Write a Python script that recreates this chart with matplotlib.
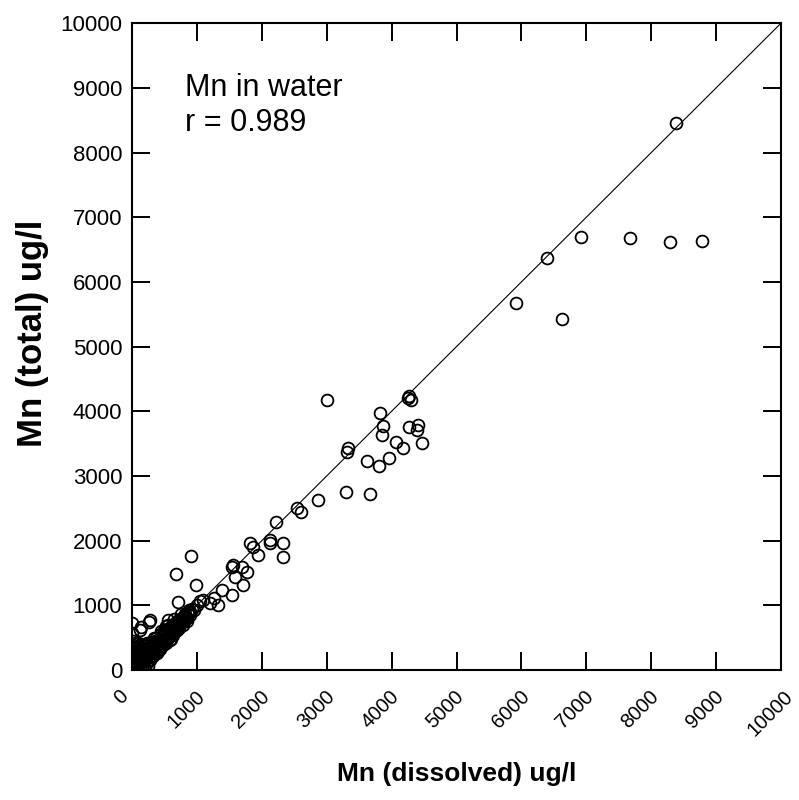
import numpy as np
import matplotlib
matplotlib.use("Agg")
import matplotlib.pyplot as plt
import matplotlib.transforms as mtransforms

plt.rcParams['font.family'] = ['Liberation Sans', 'DejaVu Sans']

# Mn dissolved (x) vs Mn total (y), ug/l
# dense cluster near the origin
low_x = [0, 10, 20, 30, 5, 15, 40, 60, 50, 25, 10, 5, 0, 8, 12, 30, 45, 70, 90, 120,
         150, 200, 250, 80, 100, 130, 160, 110, 70, 140, 180, 200, 220, 250, 270, 300,
         320, 350, 380, 400, 420, 450, 470, 500, 520, 550, 560, 580, 600, 620, 640, 660,
         680, 700, 720, 740, 760, 780, 800, 820, 850, 870, 900, 930, 960, 1000, 1050, 1100,
         300, 400, 500, 600, 700, 350, 450, 250, 180, 550, 650, 750, 520,
         0, 0, 0, 20, 35, 55, 75, 95, 115, 135, 160, 190, 210, 240, 260, 280, 310, 330,
         360, 390, 410, 430, 460, 480, 510, 530, 570, 590, 610, 630, 670, 690, 710, 730,
         770, 790, 810, 840, 860, 890, 60, 90, 170, 230, 290, 340, 370, 440, 490, 540,
         280, 330, 380, 430, 480, 530, 580, 630, 20, 40, 65, 85, 110, 140, 170, 210]
low_y = [0, 20, 5, 40, 60, 100, 15, 30, 80, 150, 200, 260, 320, 380, 450, 230, 300, 60, 20, 40,
         10, 30, 60, 120, 180, 110, 200, 260, 350, 300, 150, 250, 180, 300, 220, 330,
         260, 390, 320, 430, 370, 480, 400, 520, 450, 600, 500, 650, 560, 700, 600, 720,
         640, 760, 680, 790, 720, 820, 750, 870, 800, 900, 850, 950, 920, 1000, 1060, 1080,
         200, 300, 420, 480, 620, 450, 560, 400, 330, 700, 790, 870, 680,
         50, 150, 250, 120, 200, 160, 240, 90, 150, 230, 280, 210, 320, 260, 360, 280, 380, 300,
         440, 360, 480, 400, 530, 440, 580, 480, 600, 540, 660, 580, 680, 620, 730, 650,
         780, 700, 830, 760, 860, 900, 400, 280, 380, 420, 400, 500, 500, 600, 620, 640,
         160, 220, 270, 330, 380, 420, 470, 540, 350, 420, 200, 420, 320, 400, 80, 100]

# scattered points
mid_x = [0, 0, 120, 260, 140, 280, 555, 680, 710, 880, 910, 990, 1200, 1260, 1330, 1390,
         1540, 1540, 1560, 1590, 1700, 1710, 1770, 1820, 1860, 1940, 2130, 2130, 2220,
         2330, 2330, 2540, 2600, 2870, 3000, 3300, 3310, 3330, 3670, 3620, 3810, 3820,
         3850, 3870, 3960, 4070, 4180, 4250, 4270, 4300, 4270, 4390, 4410, 4470]
mid_y = [720, 570, 620, 740, 665, 770, 770, 1480, 1050, 930, 1760, 1310, 1040, 1110, 1000, 1240,
         1160, 1590, 1620, 1440, 1590, 1310, 1510, 1960, 1900, 1780, 1960, 2010, 2290,
         1960, 1750, 2510, 2440, 2630, 4170, 2750, 3370, 3440, 2720, 3230, 3150, 3970,
         3630, 3770, 3280, 3520, 3430, 4200, 4230, 4180, 3760, 3710, 3790, 3510]

high_x = [5920, 6390, 6630, 6920, 7670, 8290, 8380, 8780]
high_y = [5670, 6370, 5420, 6690, 6680, 6620, 8450, 6630]

x = np.array(low_x + mid_x + high_x)
y = np.array(low_y + mid_y + high_y)

ticks = np.arange(0, 10001, 1000)

fig = plt.figure(figsize=(7.99, 8.0), dpi=100)
ax = fig.add_axes([0.1652, 0.1625, 0.8123, 0.8085])

ax.plot([0, 10000], [0, 10000], color='black', lw=0.8, zorder=1)
ax.plot(x, y, 'o', mfc='none', mec='black', ms=8.5, mew=1.3, zorder=2)

ax.set_xlim(0, 10000)
ax.set_ylim(0, 10000)
ax.set_xticks(ticks)
ax.set_yticks(ticks)
ax.set_xticklabels([str(t) for t in ticks], rotation=45, ha='center')
ax.tick_params(direction='in', length=13, width=1.4, top=True, right=True,
               labelsize=16, pad=7, colors='black')
ax.tick_params(axis='x', pad=12, labelsize=14.5)
for s in ax.spines.values():
    s.set_linewidth(1.5)

# shift x tick labels a little to the left, as in the original
shift = mtransforms.ScaledTranslation(-11 / 100, 0, fig.dpi_scale_trans)
for lab in ax.get_xticklabels():
    lab.set_transform(lab.get_transform() + shift)

ax.text(820, 9230, "Mn in water\nr = 0.989", fontsize=22, va='top', ha='left',
        linespacing=1.2)

ax.set_xlabel("Mn (dissolved) ug/l", fontsize=19, fontweight='bold')
ax.set_ylabel("Mn (total) ug/l", fontsize=25, fontweight='bold')
ax.xaxis.set_label_coords(0.5, -0.142)
ax.yaxis.set_label_coords(-0.128, 0.52)

fig.savefig("out.png", dpi=100)
